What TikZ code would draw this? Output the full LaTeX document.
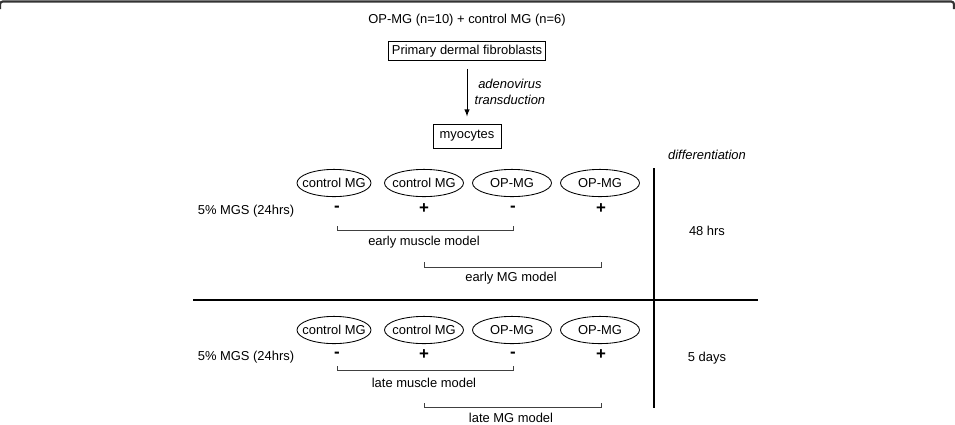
\documentclass[tikz,border=0pt]{standalone}
\usepackage{fontspec}
\setmainfont{Liberation Sans}
\usepackage{tikz}
\usetikzlibrary{shapes.geometric,calc,positioning}
\newcommand\figfont{\fontsize{9.2}{11.4}\selectfont}
\tikzset{txt/.style={draw=none, inner sep=0.4mm}}
\tikzset{itxt/.style={draw=none, inner sep=0.4mm, font=\figfont\itshape}}
\tikzset{box/.style={draw, line width=0.6pt, inner xsep=0.075cm, inner ysep=0pt, minimum height=0.475cm}}
\tikzset{grp/.style={draw, ellipse, line width=0.6pt, inner xsep=-0.18cm, inner ysep=0pt, minimum width=1.975cm, minimum height=0.68cm}}
\tikzset{sgn/.style={draw=none, inner sep=0pt, font=\fontsize{12}{12}\selectfont\bfseries}}
\tikzset{
  edgetr/.style={black, line width=0.7pt, -latex, shorten <=0.2cm, shorten >=0.18cm},
  edgebr/.style={black!75, line width=0.5pt},
  edgesep/.style={black, line width=1.2pt},
  edgeframe/.style={black!80, line width=1.5pt, rounded corners=2pt}
}

\begin{document}
\begin{tikzpicture}[x=0.025cm, y=-0.025cm, font=\figfont, inner sep=1pt]
\useasboundingbox (0,0) rectangle (955,424);
\draw[edgeframe] (0,9) -- (0,1.5) -- (954,1.5) -- (954,9);
\node[txt](n0) at (467,20) {OP-MG (n=10) + control MG (n=6)};
\node[box](n1) at (467,51) {Primary dermal fibroblasts};
\node[box, minimum width=1.7cm, minimum height=0.6cm](n2) at (467,136) {myocytes};
\draw[edgetr] (n1) to node[right, align=center, font=\figfont\itshape, inner sep=0.18cm]{adenovirus\\transduction} (n2);
% time axis
\node[itxt](d0) at (707,155) {differentiation};
\node[txt](d1) at (707,231) {48 hrs};
\node[txt](d2) at (707,358) {5 days};
\draw[edgesep] (654,168) -- (654,408);
\draw[edgesep] (193,300) -- (758,300);
% 48 hrs
\node[txt](m1) at (246,211) {5\% MGS (24hrs)};
\node[grp, minimum width=1.85cm](a1) at (334,183) {control MG};
\node[grp](a2) at (424,183) {control MG};
\node[grp](a3) at (512,183) {OP-MG};
\node[grp](a4) at (600,183) {OP-MG};
\node[sgn](p1) at (337,209) {-};
\node[sgn](p2) at (424,209) {+};
\node[sgn](p3) at (513,209) {-};
\node[sgn](p4) at (601,209) {+};
\draw[edgebr] (p1 |- 0,226) -- (p1 |- 0,230) -- (p3 |- 0,230) -- (p3 |- 0,226);
\node[txt](l1) at (424,242) {early muscle model};
\draw[edgebr] (p2 |- 0,262) -- (p2 |- 0,267) -- (p4 |- 0,267) -- (p4 |- 0,262);
\node[txt](l2) at (511,278) {early MG model};
% 5 days
\node[txt](m2) at (246,357) {5\% MGS (24hrs)};
\node[grp, minimum width=1.85cm](b1) at (334,330) {control MG};
\node[grp](b2) at (424,330) {control MG};
\node[grp](b3) at (512,330) {OP-MG};
\node[grp](b4) at (600,330) {OP-MG};
\node[sgn](q1) at (337,355) {-};
\node[sgn](q2) at (424,355) {+};
\node[sgn](q3) at (513,355) {-};
\node[sgn](q4) at (601,355) {+};
\draw[edgebr] (q1 |- 0,366) -- (q1 |- 0,370) -- (q3 |- 0,370) -- (q3 |- 0,366);
\node[txt](l3) at (424,383) {late muscle model};
\draw[edgebr] (q2 |- 0,403) -- (q2 |- 0,407) -- (q4 |- 0,407) -- (q4 |- 0,403);
\node[txt](l4) at (511,418) {late MG model};
\end{tikzpicture}
\end{document}
